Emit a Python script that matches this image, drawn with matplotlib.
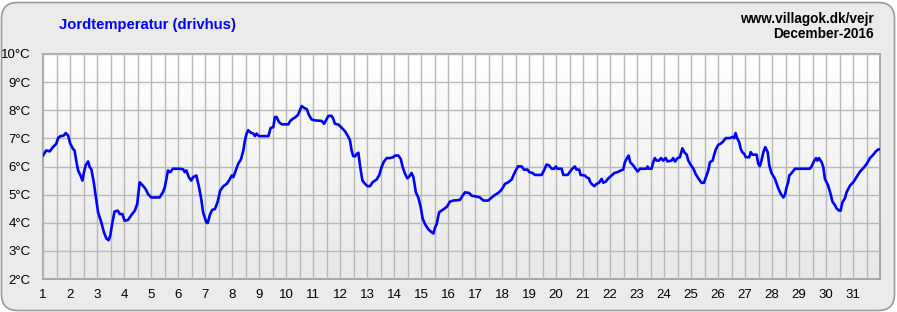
import numpy as np
import matplotlib
matplotlib.use("Agg")
import matplotlib.pyplot as plt
from matplotlib.patches import FancyBboxPatch
from matplotlib.colors import LinearSegmentedColormap

# ---- data (day of month as fractional days, soil temperature °C) ----
days = [1.00, 1.12, 1.25, 1.37, 1.49, 1.56, 1.64, 1.77, 1.84, 1.93, 2.01, 2.11, 2.17, 2.23, 2.30,
        2.38, 2.46, 2.51, 2.58, 2.67, 2.73, 2.79, 2.88, 2.95, 3.04, 3.16, 3.26, 3.35, 3.43, 3.49,
        3.57, 3.65, 3.77, 3.84, 3.94, 4.02, 4.15, 4.27, 4.40, 4.49, 4.58, 4.70, 4.80, 4.89, 5.01,
        5.20, 5.32, 5.44, 5.51, 5.63, 5.72, 5.81, 6.06, 6.19, 6.25, 6.31, 6.40, 6.49, 6.56, 6.68,
        6.78, 6.86, 6.93, 7.05, 7.10, 7.19, 7.27, 7.37, 7.47, 7.56, 7.68, 7.80, 7.89, 7.99, 8.05,
        8.14, 8.23, 8.33, 8.42, 8.48, 8.54, 8.60, 8.70, 8.79, 8.85, 8.91, 9.00, 9.35, 9.43, 9.53,
        9.59, 9.65, 9.74, 9.84, 10.09, 10.15, 10.23, 10.33, 10.43, 10.49, 10.58, 10.68, 10.77,
        10.83, 10.89, 10.95, 11.07, 11.32, 11.41, 11.48, 11.57, 11.69, 11.75, 11.81, 11.94, 12.04,
        12.19, 12.31, 12.37, 12.43, 12.49, 12.56, 12.62, 12.68, 12.74, 12.83, 12.93, 13.02, 13.11,
        13.21, 13.36, 13.46, 13.54, 13.63, 13.73, 13.85, 13.97, 14.04, 14.16, 14.25, 14.32, 14.41,
        14.49, 14.57, 14.65, 14.72, 14.81, 14.90, 14.99, 15.06, 15.15, 15.27, 15.37, 15.46, 15.52,
        15.58, 15.67, 15.76, 15.85, 15.97, 16.07, 16.20, 16.44, 16.54, 16.63, 16.78, 16.88, 17.06,
        17.18, 17.31, 17.49, 17.62, 17.74, 17.86, 17.95, 18.02, 18.11, 18.23, 18.36, 18.42, 18.51,
        18.60, 18.73, 18.81, 18.94, 19.01, 19.13, 19.22, 19.47, 19.57, 19.65, 19.74, 19.84, 19.94,
        19.99, 20.06, 20.21, 20.27, 20.43, 20.52, 20.60, 20.70, 20.76, 20.86, 20.91, 21.07, 21.13,
        21.22, 21.26, 21.32, 21.42, 21.50, 21.59, 21.69, 21.75, 21.84, 21.94, 22.06, 22.16, 22.28,
        22.40, 22.49, 22.55, 22.63, 22.69, 22.75, 22.86, 22.95, 23.02, 23.11, 23.36, 23.39, 23.45,
        23.54, 23.60, 23.66, 23.73, 23.81, 23.89, 23.97, 24.06, 24.13, 24.28, 24.34, 24.41, 24.50,
        24.59, 24.68, 24.75, 24.84, 24.90, 25.00, 25.09, 25.17, 25.27, 25.39, 25.48, 25.58, 25.64,
        25.70, 25.80, 25.85, 25.92, 26.01, 26.10, 26.19, 26.29, 26.44, 26.54, 26.60, 26.65, 26.71,
        26.79, 26.84, 26.90, 26.97, 27.03, 27.16, 27.21, 27.28, 27.43, 27.49, 27.55, 27.61, 27.68,
        27.75, 27.84, 27.90, 27.98, 28.11, 28.23, 28.33, 28.42, 28.48, 28.54, 28.60, 28.64, 28.72,
        28.85, 29.40, 29.47, 29.55, 29.63, 29.68, 29.74, 29.84, 29.90, 29.96, 30.08, 30.17, 30.24,
        30.33, 30.39, 30.49, 30.54, 30.61, 30.70, 30.76, 30.89, 31.01, 31.13, 31.26, 31.38, 31.51,
        31.63, 31.75, 31.85, 31.94, 31.99]
temps = [6.39, 6.57, 6.54, 6.69, 6.81, 7.01, 7.08, 7.10, 7.19, 7.10, 6.81, 6.63, 6.57, 6.21, 5.86,
         5.70, 5.50, 5.77, 6.04, 6.18, 5.98, 5.90, 5.44, 4.96, 4.37, 4.01, 3.65, 3.44, 3.38, 3.54,
         4.01, 4.40, 4.43, 4.31, 4.31, 4.07, 4.10, 4.27, 4.43, 4.67, 5.44, 5.32, 5.20, 5.02, 4.90,
         4.90, 4.90, 5.08, 5.26, 5.86, 5.80, 5.92, 5.92, 5.90, 5.80, 5.86, 5.62, 5.50, 5.62, 5.68,
         5.26, 4.85, 4.37, 4.01, 3.99, 4.31, 4.46, 4.49, 4.75, 5.14, 5.30, 5.38, 5.50, 5.68, 5.62,
         5.86, 6.10, 6.25, 6.57, 6.93, 7.17, 7.29, 7.20, 7.17, 7.08, 7.17, 7.08, 7.08, 7.37, 7.40,
         7.76, 7.76, 7.58, 7.50, 7.50, 7.61, 7.68, 7.74, 7.82, 7.94, 8.15, 8.08, 8.04,
         7.88, 7.76, 7.67, 7.64, 7.62, 7.52, 7.64, 7.80, 7.80, 7.70, 7.52, 7.49, 7.40,
         7.25, 7.05, 6.93, 6.57, 6.37, 6.36, 6.45, 6.49, 6.04, 5.50, 5.38, 5.30, 5.30,
         5.44, 5.54, 5.71, 5.98, 6.18, 6.30, 6.30, 6.33, 6.39, 6.39, 6.27, 5.98, 5.74,
         5.58, 5.65, 5.77, 5.62, 5.08, 4.90, 4.55, 4.15, 3.95, 3.77, 3.68, 3.62, 3.83,
         3.95, 4.37, 4.43, 4.49, 4.58, 4.75, 4.79, 4.81, 4.96, 5.08, 5.06, 4.96, 4.93,
         4.90, 4.79, 4.79, 4.90, 4.99, 5.06, 5.14, 5.23, 5.38, 5.44, 5.54, 5.68, 5.86,
         6.01, 6.00, 5.89, 5.89, 5.80, 5.77, 5.70, 5.70, 5.89, 6.07, 6.04, 5.92, 5.92,
         6.00, 5.92, 5.92, 5.70, 5.70, 5.82, 5.92, 6.00, 5.89, 5.89, 5.70, 5.68, 5.62,
         5.58, 5.46, 5.38, 5.30, 5.38, 5.42, 5.56, 5.42, 5.46, 5.58, 5.68, 5.77, 5.80,
         5.86, 5.89, 6.15, 6.30, 6.39, 6.15, 6.04, 5.92, 5.82, 5.92, 5.92, 6.00, 5.92,
         5.92, 6.15, 6.30, 6.21, 6.21, 6.30, 6.21, 6.30, 6.18, 6.21, 6.30, 6.18, 6.30,
         6.33, 6.65, 6.51, 6.42, 6.21, 6.04, 5.92, 5.74, 5.58, 5.42, 5.42, 5.70, 5.86,
         6.15, 6.21, 6.39, 6.61, 6.77, 6.81, 6.89, 7.01, 7.01, 7.05, 7.01, 7.19, 7.01,
         6.85, 6.63, 6.51, 6.45, 6.33, 6.33, 6.51, 6.42, 6.42, 6.10, 6.01, 6.21, 6.51,
         6.69, 6.51, 6.04, 5.77, 5.56, 5.23, 5.02, 4.90, 4.99, 5.26, 5.44, 5.68, 5.76,
         5.92, 5.92, 6.01, 6.18, 6.30, 6.21, 6.30, 6.15, 5.98, 5.56, 5.32, 5.02, 4.75,
         4.63, 4.51, 4.43, 4.43, 4.73, 4.87, 5.08, 5.32, 5.44, 5.62, 5.82, 5.94, 6.10,
         6.30, 6.42, 6.54, 6.61, 6.61]

x_ticks = list(range(1, 32))
y_ticks = list(range(2, 11))
y_tick_labels = [f"{v}°C" for v in y_ticks]

title = "Jordtemperatur (drivhus)"
site = "www.villagok.dk/vejr"
period = "December-2016"

plt.rcParams['font.family'] = ['Liberation Sans', 'DejaVu Sans']

W, H = 897, 312
fig = plt.figure(figsize=(W / 100, H / 100), dpi=100, facecolor='white')

frame = FancyBboxPatch((1.5 / W, 1.5 / H), (W - 4) / W, (H - 4) / H,
                       boxstyle="round,pad=0,rounding_size=0.018",
                       transform=fig.transFigure, facecolor='#ebebeb',
                       edgecolor='#9a9a9a', linewidth=1.2,
                       mutation_aspect=W / H, zorder=-10)
fig.patches.append(frame)

ax = fig.add_axes([43 / W, (H - 279) / H, (880 - 43) / W, (279 - 54) / H])
ax.set_zorder(5)
ax.set_xlim(1, 32)
ax.set_ylim(2, 10)

# gradient background: white at top, light grey at bottom
grad = np.linspace(0, 1, 256).reshape(-1, 1)
cmap = LinearSegmentedColormap.from_list('bg', ['#ffffff', '#e8e8e8'])
ax.imshow(grad, extent=[1, 32, 2, 10], origin='upper', aspect='auto',
          cmap=cmap, zorder=0, interpolation='bilinear')

ax.set_xticks(np.arange(1, 32.01, 0.5), minor=True)
ax.set_xticks(x_ticks)
ax.set_xticklabels([str(d) for d in x_ticks])
ax.set_yticks(y_ticks)
ax.set_yticklabels(y_tick_labels)
ax.grid(True, which='both', axis='x', color='#b8b8b8', linewidth=1.0, zorder=1)
ax.grid(True, which='major', axis='y', color='#b8b8b8', linewidth=1.0, zorder=1)
ax.set_axisbelow(False)
for gl in ax.get_xgridlines() + ax.get_ygridlines() + ax.xaxis.get_minorticklines():
    gl.set_zorder(1)
ax.tick_params(which='both', length=0)
ax.tick_params(axis='x', pad=7, labelsize=9.5, colors='black')
ax.tick_params(axis='y', pad=9, labelsize=9.5, colors='black')
for s in ax.spines.values():
    s.set_color('#9a9a9a')
    s.set_linewidth(1.2)

ax.plot(days, temps, color='#0000ff', linewidth=1.9, zorder=3,
        solid_joinstyle='round')

fig.text(59 / W, 1 - 25 / H, title, color='#0000ff', fontsize=10.7,
         fontweight='bold', ha='left', va='center')
fig.text(874 / W, 1 - 19 / H, site, color='black', fontsize=9.8,
         fontweight='bold', ha='right', va='center')
fig.text(874 / W, 1 - 34 / H, period, color='black', fontsize=9.8,
         fontweight='bold', ha='right', va='center')

fig.savefig('out.png', dpi=100, facecolor=fig.get_facecolor())
